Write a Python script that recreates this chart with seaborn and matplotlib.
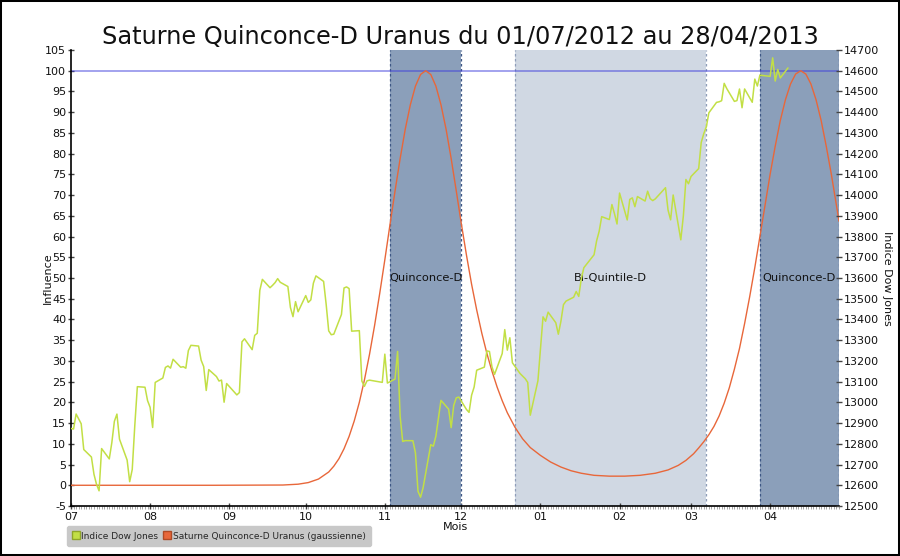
import matplotlib
matplotlib.use("Agg")
import matplotlib.pyplot as plt
import matplotlib.dates as mdates
from matplotlib.lines import Line2D
from matplotlib.patches import Rectangle
import seaborn as sns
import pandas as pd

# ---------------- data ----------------
TITLE = "Saturne Quinconce-D Uranus du 01/07/2012 au 28/04/2013"
START = "2012-07-01"
END = "2013-04-28"

# Dow Jones closes (right axis)
dj_dates = [
    "2012-06-29", "2012-07-02", "2012-07-03", "2012-07-05", "2012-07-06", "2012-07-09", "2012-07-10",
    "2012-07-11", "2012-07-12", "2012-07-13", "2012-07-16", "2012-07-17", "2012-07-18", "2012-07-19",
    "2012-07-20", "2012-07-23", "2012-07-24", "2012-07-25", "2012-07-26", "2012-07-27", "2012-07-30",
    "2012-07-31", "2012-08-01", "2012-08-02", "2012-08-03", "2012-08-06", "2012-08-07", "2012-08-08",
    "2012-08-09", "2012-08-10", "2012-08-13", "2012-08-14", "2012-08-15", "2012-08-16", "2012-08-17",
    "2012-08-20", "2012-08-21", "2012-08-22", "2012-08-23", "2012-08-24", "2012-08-27", "2012-08-28",
    "2012-08-29", "2012-08-30", "2012-08-31", "2012-09-04", "2012-09-05", "2012-09-06", "2012-09-07",
    "2012-09-10", "2012-09-11", "2012-09-12", "2012-09-13", "2012-09-14", "2012-09-17", "2012-09-18",
    "2012-09-19", "2012-09-20", "2012-09-21", "2012-09-24", "2012-09-25", "2012-09-26", "2012-09-27",
    "2012-09-28", "2012-10-01", "2012-10-02", "2012-10-03", "2012-10-04", "2012-10-05", "2012-10-08",
    "2012-10-09", "2012-10-10", "2012-10-11", "2012-10-12", "2012-10-15", "2012-10-16", "2012-10-17",
    "2012-10-18", "2012-10-19", "2012-10-22", "2012-10-23", "2012-10-24", "2012-10-25", "2012-10-26",
    "2012-10-31", "2012-11-01", "2012-11-02", "2012-11-05", "2012-11-06", "2012-11-07", "2012-11-08",
    "2012-11-09", "2012-11-12", "2012-11-13", "2012-11-14", "2012-11-15", "2012-11-16", "2012-11-19",
    "2012-11-20", "2012-11-21", "2012-11-23", "2012-11-26", "2012-11-27", "2012-11-28", "2012-11-29",
    "2012-11-30", "2012-12-03", "2012-12-04", "2012-12-05", "2012-12-06", "2012-12-07", "2012-12-10",
    "2012-12-11", "2012-12-12", "2012-12-13", "2012-12-14", "2012-12-17", "2012-12-18", "2012-12-19",
    "2012-12-20", "2012-12-21", "2012-12-24", "2012-12-26", "2012-12-27", "2012-12-28", "2012-12-31",
    "2013-01-02", "2013-01-03", "2013-01-04", "2013-01-07", "2013-01-08", "2013-01-09", "2013-01-10",
    "2013-01-11", "2013-01-14", "2013-01-15", "2013-01-16", "2013-01-17", "2013-01-18", "2013-01-22",
    "2013-01-23", "2013-01-24", "2013-01-25", "2013-01-28", "2013-01-29", "2013-01-30", "2013-01-31",
    "2013-02-01", "2013-02-04", "2013-02-05", "2013-02-06", "2013-02-07", "2013-02-08", "2013-02-11",
    "2013-02-12", "2013-02-13", "2013-02-14", "2013-02-15", "2013-02-19", "2013-02-20", "2013-02-21",
    "2013-02-22", "2013-02-25", "2013-02-26", "2013-02-27", "2013-02-28", "2013-03-01", "2013-03-04",
    "2013-03-05", "2013-03-06", "2013-03-07", "2013-03-08", "2013-03-11", "2013-03-12", "2013-03-13",
    "2013-03-14", "2013-03-15", "2013-03-18", "2013-03-19", "2013-03-20", "2013-03-21", "2013-03-22",
    "2013-03-25", "2013-03-26", "2013-03-27", "2013-03-28", "2013-04-01", "2013-04-02", "2013-04-03",
    "2013-04-04", "2013-04-05", "2013-04-08",
]
dj_close = [
    12880.09, 12871.39, 12943.82, 12896.67, 12772.47, 12736.29, 12653.12,
    12604.53, 12573.27, 12777.09, 12727.21, 12805.54, 12908.70, 12943.36,
    12822.57, 12721.46, 12617.32, 12676.05, 12887.93, 13075.66, 13073.01,
    13008.68, 12976.13, 12878.88, 13096.17, 13117.51, 13168.60, 13175.64,
    13165.19, 13207.95, 13169.43, 13172.14, 13164.78, 13250.11, 13275.20,
    13271.64, 13203.58, 13172.76, 13057.46, 13157.97, 13124.67, 13102.99,
    13107.48, 13000.71, 13090.84, 13035.94, 13047.48, 13292.00, 13306.64,
    13254.29, 13323.36, 13333.35, 13539.86, 13593.37, 13553.10, 13564.64,
    13577.96, 13596.93, 13579.47, 13558.92, 13457.55, 13413.51, 13485.97,
    13437.13, 13515.11, 13482.36, 13494.61, 13575.36, 13610.15, 13583.65,
    13473.53, 13344.97, 13326.39, 13328.85, 13424.23, 13551.78, 13557.00,
    13548.94, 13343.51, 13345.89, 13102.53, 13077.34, 13103.68, 13107.21,
    13096.46, 13232.62, 13093.16, 13112.44, 13245.68, 12932.73, 12811.32,
    12815.39, 12815.08, 12756.18, 12570.95, 12542.38, 12588.31, 12795.96,
    12788.51, 12836.89, 13009.68, 12967.37, 12878.13, 12985.11, 13021.82,
    13025.58, 12965.60, 12951.78, 13034.49, 13074.04, 13155.13, 13169.88,
    13248.44, 13245.45, 13170.72, 13135.01, 13235.39, 13350.96, 13251.97,
    13311.72, 13190.84, 13139.08, 13114.59, 13096.31, 12938.11, 13104.14,
    13412.55, 13391.36, 13435.21, 13384.29, 13328.85, 13390.51, 13471.22,
    13488.43, 13507.32, 13534.89, 13511.23, 13596.02, 13649.70, 13712.21,
    13779.33, 13825.33, 13895.98, 13881.93, 13954.42, 13910.42, 13860.58,
    14009.79, 13880.08, 13979.30, 13986.52, 13944.05, 13992.97, 13971.24,
    14018.70, 13982.91, 13973.39, 13981.76, 14035.67, 13927.54, 13880.62,
    14000.57, 13784.17, 13900.13, 14075.37, 14054.49, 14089.66, 14127.82,
    14253.77, 14296.24, 14329.49, 14397.07, 14447.29, 14450.06, 14455.28,
    14539.14, 14514.11, 14452.06, 14455.82, 14511.73, 14421.49, 14512.03,
    14447.75, 14559.65, 14526.16, 14578.54, 14572.85, 14662.01, 14550.35,
    14606.11, 14565.25, 14613.48,
]

# Saturne Quinconce-D Uranus (gaussienne): day offset from START, influence
gauss_day = [
    0, 56, 83, 89, 93, 97, 101, 103, 105, 107,
    109, 111, 113, 115, 117, 119, 121, 123, 125, 127,
    129, 131, 133, 135, 137, 139, 141, 143, 145, 147,
    149, 151, 153, 155, 157, 159, 161, 163, 165, 167,
    169, 171, 174, 177, 180, 184, 188, 192, 196, 200,
    205, 211, 217, 223, 229, 234, 238, 241, 244, 246,
    248, 250, 252, 254, 256, 258, 260, 262, 264, 266,
    268, 270, 272, 274, 276, 278, 280, 282, 284, 286,
    288, 290, 292, 294, 296, 298, 300, 301,
]
gauss_val = [
    0, 0, 0.06, 0.26, 0.65, 1.5, 3.2, 4.6, 6.4, 8.8,
    11.8, 15.5, 20, 25.4, 31.6, 38.6, 46.3, 54.4, 62.8, 71,
    78.8, 85.9, 91.8, 96.3, 99.1, 100, 99.1, 96.3, 91.8, 85.9,
    78.8, 71, 63, 55.5, 48.5, 42.3, 36.7, 31.8, 27.5, 23.7,
    20.4, 17.5, 14, 11.2, 9.1, 7.2, 5.6, 4.4, 3.5, 2.9,
    2.4, 2.2, 2.2, 2.4, 2.9, 3.7, 4.8, 6, 7.6, 9,
    10.5, 12.2, 14.2, 16.7, 19.8, 23.5, 28, 33, 39, 45.5,
    52.5, 60, 67.5, 75, 81.8, 88, 93, 96.8, 99.2, 100,
    99.2, 96.8, 93, 88, 81.8, 75, 67.5, 63.7,
]

# aspect bands
band_start = ["2012-11-03", "2012-12-22", "2013-03-28"]
band_end = ["2012-12-01", "2013-03-07", "2013-04-28"]
band_label = ["Quinconce-D", "Bi-Quintile-D", "Quinconce-D"]
band_dark = [True, False, True]

left_ticks = list(range(-5, 106, 5))
right_ticks = list(range(12500, 14701, 100))

# ---------------- style ----------------
sns.set_theme(style="white")
plt.rcParams["font.family"] = ["DejaVu Sans"]

C_DJ = "#c2df45"
C_GAUSS = "#e8673a"
C_DARK = "#8b9fba"
C_LIGHT = "#d0d8e3"

fig = plt.figure(figsize=(9, 5.56), dpi=100)
ax = fig.add_axes([71 / 900, 50 / 556, 768 / 900, 456 / 556])
ax2 = ax.twinx()

t0 = pd.Timestamp(START)
t1 = pd.Timestamp(END)

# bands
for s, e, lab, dark in zip(band_start, band_end, band_label, band_dark):
    s, e = pd.Timestamp(s), pd.Timestamp(e)
    ax.axvspan(s, e, color=C_DARK if dark else C_LIGHT, lw=0, zorder=0)
    ec = "#3d5684" if dark else "#8e9db8"
    for xx in (s, e):
        ax.axvline(xx, color=ec, lw=0.9, ls=(0, (2, 2)), zorder=1)
    ax.text(s + (e - s) / 2, 50, lab, ha="center", va="center", fontsize=8.2,
            color="#111111", zorder=2)

ax.axhline(100, color="#3c3cdc", alpha=0.6, lw=1.1, zorder=2)

gdf = pd.DataFrame({"date": t0 + pd.to_timedelta(gauss_day, unit="D"), "val": gauss_val})
sns.lineplot(data=gdf, x="date", y="val", ax=ax, color=C_GAUSS, lw=1.0, zorder=3, legend=False)

djdf = pd.DataFrame({"date": pd.to_datetime(dj_dates), "close": dj_close})
sns.lineplot(data=djdf, x="date", y="close", ax=ax2, color=C_DJ, lw=1.1, legend=False)

ax.set_xlim(t0, t1)
ax.set_ylim(-5, 105)
ax2.set_ylim(12500, 14700)
ax.set_yticks(left_ticks)
ax.set_yticklabels([str(v) for v in left_ticks])
ax2.set_yticks(right_ticks)
ax2.set_yticklabels([str(v) for v in right_ticks])

ax.xaxis.set_major_locator(mdates.MonthLocator())
ax.xaxis.set_major_formatter(mdates.DateFormatter("%m"))
ax.xaxis.set_minor_locator(mdates.DayLocator())

for sp in ("top", "right"):
    ax.spines[sp].set_visible(False)
for sp in ("top", "right", "left", "bottom"):
    ax2.spines[sp].set_visible(False)
for sp in ("left", "bottom"):
    ax.spines[sp].set_color("black")
    ax.spines[sp].set_linewidth(1.2)

ax.tick_params(axis="y", which="major", left=True, direction="inout", length=5, width=1,
               color="#444444", labelsize=8, pad=1, labelcolor="#111111")
ax.tick_params(axis="x", which="major", bottom=True, direction="inout", length=5, width=1,
               color="#444444", labelsize=8, pad=1.5, labelcolor="#111111")
ax.tick_params(axis="x", which="minor", bottom=True, direction="out", length=2, width=0.6,
               color="#999999")
ax2.tick_params(axis="y", which="major", right=True, direction="inout", length=5, width=1,
                color="#444444", labelsize=8, pad=1, labelcolor="#111111")

ax.set_xlabel("Mois", fontsize=8, color="#111111")
ax.xaxis.set_label_coords(0.5, -0.036)
ax.set_ylabel("Influence", fontsize=8, color="#111111")
ax.yaxis.set_label_coords(-0.0234, 0.5)
ax2.set_ylabel("Indice Dow Jones", fontsize=8, color="#111111", rotation=270, va="bottom")
ax2.yaxis.set_label_coords(1.056, 0.5)

fig.text(460.5 / 900, 1 - 37 / 556, TITLE, ha="center", va="center", fontsize=17.3, color="#111111")

handles = [
    Line2D([], [], marker="s", ls="none", markersize=6, markerfacecolor=C_DJ, markeredgecolor="#8fa52a"),
    Line2D([], [], marker="s", ls="none", markersize=6, markerfacecolor=C_GAUSS, markeredgecolor="#b04a25"),
]
leg = fig.legend(handles, ["Indice Dow Jones", "Saturne Quinconce-D Uranus (gaussienne)"],
                 loc="lower left", bbox_to_anchor=(67 / 900, 10 / 556), ncol=2, fontsize=6.5,
                 frameon=True, fancybox=True, facecolor="#c8c8c8", edgecolor="#c8c8c8",
                 framealpha=1, handlelength=0.7, handletextpad=0.3, columnspacing=0.6,
                 borderpad=0.6, borderaxespad=0)

fig.patches.append(Rectangle((0, 0), 1, 1, transform=fig.transFigure, fill=False,
                             edgecolor="black", lw=2.9))

fig.savefig("out.png", dpi=100)
